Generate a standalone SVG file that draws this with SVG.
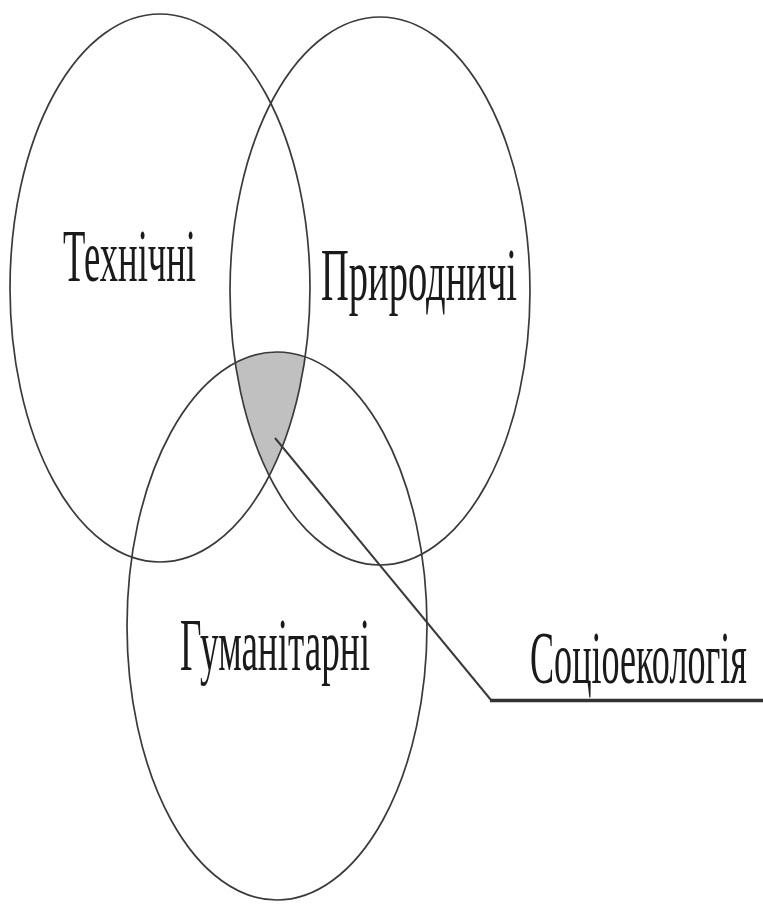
<svg xmlns="http://www.w3.org/2000/svg" width="763" height="904" viewBox="0 0 763 904">
  <style>
    .set { fill: none; stroke: #3a3a3a; stroke-width: 1.7; }
    .lbl { font-family: "Liberation Serif", "Times New Roman", serif; font-size: 73px; fill: #1a1a1a; }
  </style>
  <defs>
    <clipPath id="clipT"><ellipse cx="160" cy="288" rx="150" ry="274"/></clipPath>
    <clipPath id="clipP"><ellipse cx="380" cy="291" rx="150" ry="274"/></clipPath>
  </defs>
  <rect width="763" height="904" fill="#ffffff"/>

  <g id="intersection">
    <g clip-path="url(#clipT)">
      <g clip-path="url(#clipP)">
        <ellipse cx="277" cy="626" rx="150" ry="274" fill="#c0c0c0"/>
      </g>
    </g>
  </g>

  <g id="tekhnichni">
    <ellipse class="set" cx="160" cy="288" rx="150" ry="274"/>
    <text class="lbl" x="63" y="281" textLength="133" lengthAdjust="spacingAndGlyphs">Технічні</text>
  </g>

  <g id="pryrodnychi">
    <ellipse class="set" cx="380" cy="291" rx="150" ry="274"/>
    <text class="lbl" x="321" y="300" textLength="196" lengthAdjust="spacingAndGlyphs">Природничі</text>
  </g>

  <g id="humanitarni">
    <ellipse class="set" cx="277" cy="626" rx="150" ry="274"/>
    <text class="lbl" x="180" y="670" textLength="190" lengthAdjust="spacingAndGlyphs">Гуманітарні</text>
  </g>

  <g id="sotsioekolohiia">
    <text class="lbl" transform="translate(530,683) scale(0.5,1)" x="0" y="0" textLength="434" lengthAdjust="spacingAndGlyphs">Соціоекологія</text>
  </g>

  <g id="connectors">
    <polyline points="275,438 491,700" fill="none" stroke="#3a3a3a" stroke-width="2"/>
    <line x1="490" y1="700.5" x2="763" y2="700.5" stroke="#333333" stroke-width="3.5"/>
  </g>
</svg>
